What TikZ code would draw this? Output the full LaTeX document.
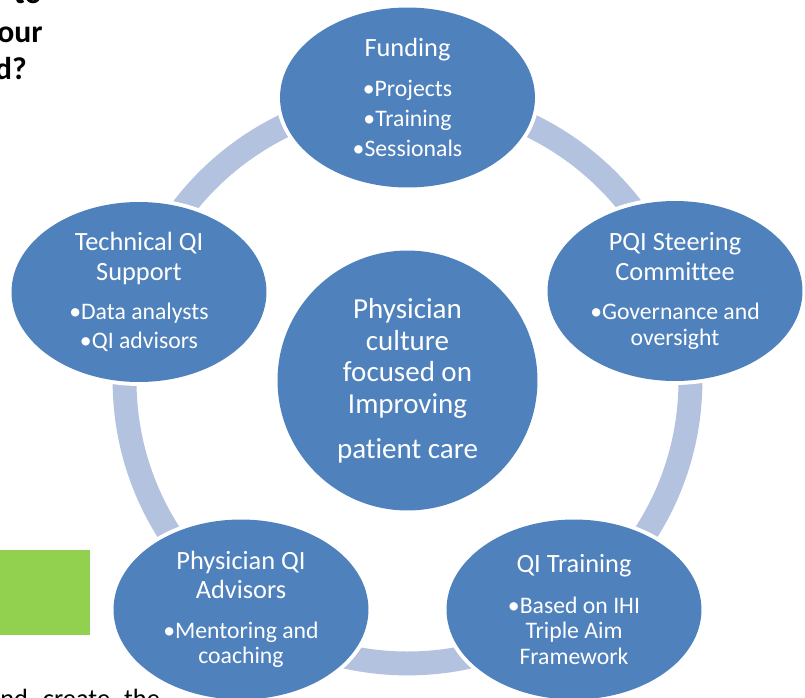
\documentclass[tikz,border=0pt]{standalone}
\usepackage{fontspec}
\setmainfont{Carlito}[Ligatures=NoCommon]
\usetikzlibrary{shapes.geometric}

\definecolor{partblue}{HTML}{4F81BD}
\definecolor{ringblue}{HTML}{B3C2DE}
\definecolor{boxgreen}{HTML}{92D050}
\newcommand{\titlefont}{\fontsize{15}{17}\selectfont}
\newcommand{\itemfont}{\fontsize{13.5}{14.5}\selectfont}

\begin{document}
\begin{tikzpicture}[x=0.02cm, y=-0.02cm,
    part/.style={ellipse, fill=partblue, text=white, minimum width=5.1cm, minimum height=3.6cm,
        inner sep=0pt, align=center, font=\itemfont, preaction={draw=white, line width=4.5pt}},
    hub/.style={circle, fill=partblue, text=white, minimum size=5.2cm, inner sep=0pt,
        align=center, font=\fontsize{16.5}{18}\selectfont},
    ring/.style={ringblue, line width=13.6pt},
    cuttext/.style={inner sep=0pt, text=black}]
            \useasboundingbox (0,0) rectangle (805,697);

            % page text cut off by the picture
            \node[cuttext, anchor=base east, font=\fontsize{18}{20}\selectfont\bfseries] (head1) at (42,3) {to};
            \node[cuttext, anchor=base east, font=\fontsize{18}{20}\selectfont\bfseries] (head2) at (43,42) {our};
            \node[cuttext, anchor=base east, font=\fontsize{18}{20}\selectfont\bfseries] (head3) at (27,79) {d?};
            \fill[boxgreen] (0,550) rectangle (90,635);
            \node[cuttext, anchor=base west, font=\fontsize{15}{17}\selectfont] (foot) at (0,707)
                {nd\hspace{8.5pt}create\hspace{8pt}the};

            \node[hub] (hub) at (407.5,380.5) {Physician\\ culture\\ focused on\\ Improving\\[7.5pt] patient care};
            \draw[ring] (hub.center) circle[radius=5.66cm];

            \node[part] (funding) at (407.5,97.5)
                {{\titlefont Funding}\\[8.2pt] •Projects\\[3pt] •Training\\[2.5pt] •Sessionals};
            \node[part] (steering) at (675,291)
                {{\titlefont PQI Steering}\\[2.5pt] {\titlefont Committee}\\[7.6pt] •Governance and\\ oversight};
            \node[part] (training) at (574,609.5)
                {{\titlefont QI Training}\\[8.7pt] •Based on IHI\\ Triple Aim\\ Framework};
            \node[part] (advisors) at (241,609.5)
                {{\titlefont Physician QI}\\[2pt] {\titlefont Advisors}\\[8.2pt] •Mentoring and\\ coaching};
            \node[part] (support) at (139,292)
                {{\titlefont Technical QI}\\[2.5pt] {\titlefont Support}\\[8.2pt] •Data analysts\\[2pt] •QI advisors};
        \end{tikzpicture}
\end{document}
